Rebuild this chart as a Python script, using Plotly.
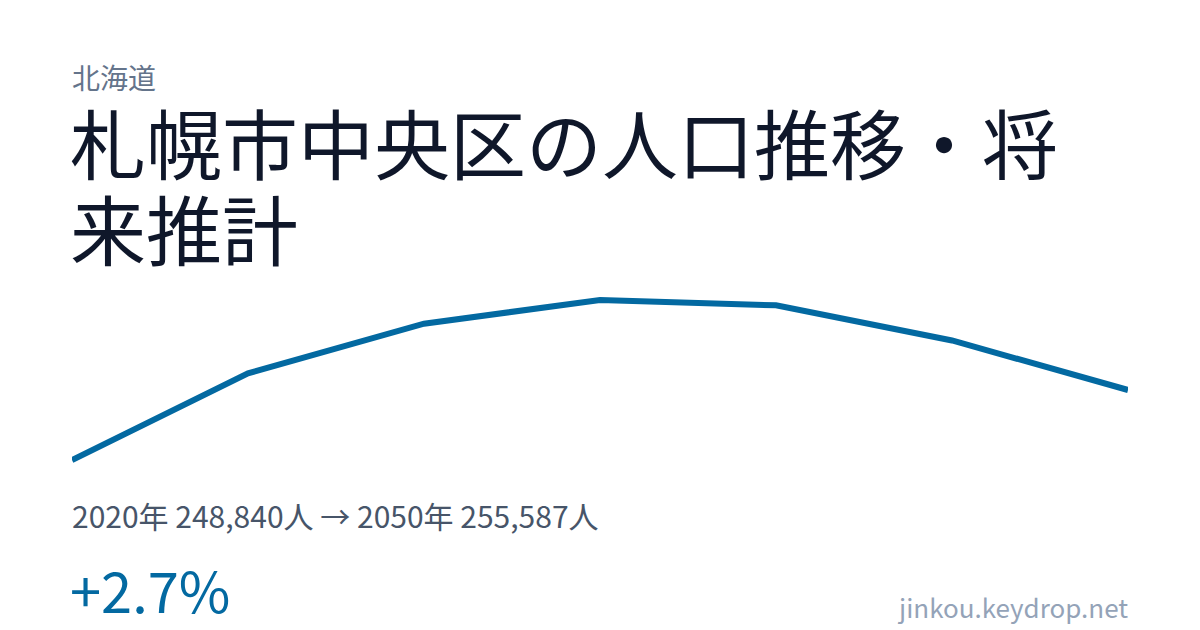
import plotly.graph_objects as go

# データ(札幌市中央区の人口推移・将来推計)
years = [2020, 2025, 2030, 2035, 2040, 2045, 2050]
population = [248840, 257194, 261976, 264260, 263747, 260359, 255587]

prefecture = "北海道"
title_line1 = "札幌市中央区の人口推移・将"
title_line2 = "来推計"
summary = "2020年 248,840人 → 2050年 255,587人"
change = "+2.7%"
site = "jinkou.keydrop.net"

W, H = 1200, 630
FONT = "Noto Sans CJK JP"


def py(px):
    # ピクセル(上から)→ paper座標
    return 1 - px / H


lo, hi = min(population), max(population)
span = hi - lo
top_px, bot_px = 300, 460
unit = span / (bot_px - top_px)
pad = 6  # 線の太さ分の余白(px)

fig = go.Figure()
fig.add_trace(go.Scatter(
    x=years,
    y=population,
    mode="lines",
    line=dict(color="#0369a1", width=6),
    hoverinfo="skip",
    showlegend=False,
))

fig.update_layout(
    width=W, height=H,
    margin=dict(l=0, r=0, t=0, b=0),
    paper_bgcolor="white",
    plot_bgcolor="white",
    showlegend=False,
    xaxis=dict(
        domain=[72 / W, 1128 / W],
        range=[years[0], years[-1]],
        visible=False, fixedrange=True,
    ),
    yaxis=dict(
        domain=[py(bot_px + pad), py(top_px - pad)],
        range=[lo - pad * unit, hi + pad * unit],
        visible=False, fixedrange=True,
    ),
)

texts = [
    (prefecture, 70, 77, 28, "#64748b", "left"),
    (title_line1, 68, 141, 76, "#0f172a", "left"),
    (title_line2, 68, 227, 76, "#0f172a", "left"),
    (summary, 70, 515, 30, "#475569", "left"),
    (change, 68, 588, 56, "#0369a1", "left"),
    (site, 1130, 606, 26, "#94a3b8", "right"),
]
for txt, x, y, size, color, anchor in texts:
    fig.add_annotation(
        text=txt, x=x / W, y=py(y), xref="paper", yref="paper",
        xanchor=anchor, yanchor="middle", showarrow=False,
        font=dict(family=FONT, size=size, color=color),
    )

fig.write_html(
    "out.html",
    config={"displayModeBar": False, "staticPlot": True},
    post_script="document.body.style.margin='0';document.body.style.overflow='hidden';",
)
